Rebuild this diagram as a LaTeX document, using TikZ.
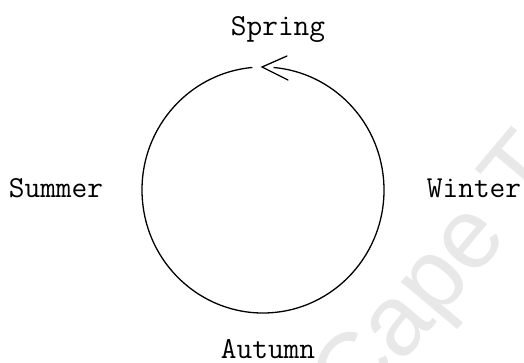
\documentclass[tikz,border=0pt]{standalone}
\usepackage{fontspec}
\newfontfamily\wmfont{Liberation Sans}
\begin{document}
\begin{tikzpicture}[x=1pt,y=-1pt,
  season/.style={font=\ttfamily\fontsize{30.5}{34}\selectfont, inner sep=0pt, anchor=base},
  cycleline/.style={line width=1.3pt, black},
  watermark/.style={font=\wmfont\fontsize{100}{110}\selectfont, text=black!9, inner sep=0pt, anchor=base west, rotate=50}]
\useasboundingbox (0,0) rectangle (524,362);
\fill[white] (0,0) rectangle (524,362);
\begin{scope}
\clip (0,0) rectangle (524,362);
\node[watermark] (wm) at (355,420) {Cape Town};
\end{scope}
\coordinate (c) at (263,190);
\draw[cycleline] ([shift={(-95:121 and 123)}]c) arc[start angle=-95, end angle=-445, x radius=121, y radius=123];
\coordinate (tip) at (262,67);
\coordinate (armup) at (287,56);
\coordinate (armdown) at (288,80);
\draw[cycleline, line cap=round] (armup) -- (tip) -- (armdown);
\node[season] (spring) at (278,35) {Spring};
\node[season] (summer) at (56,197) {Summer};
\node[season] (winter) at (474,197) {Winter};
\node[season] (autumn) at (268,358) {Autumn};
\end{tikzpicture}
\end{document}
